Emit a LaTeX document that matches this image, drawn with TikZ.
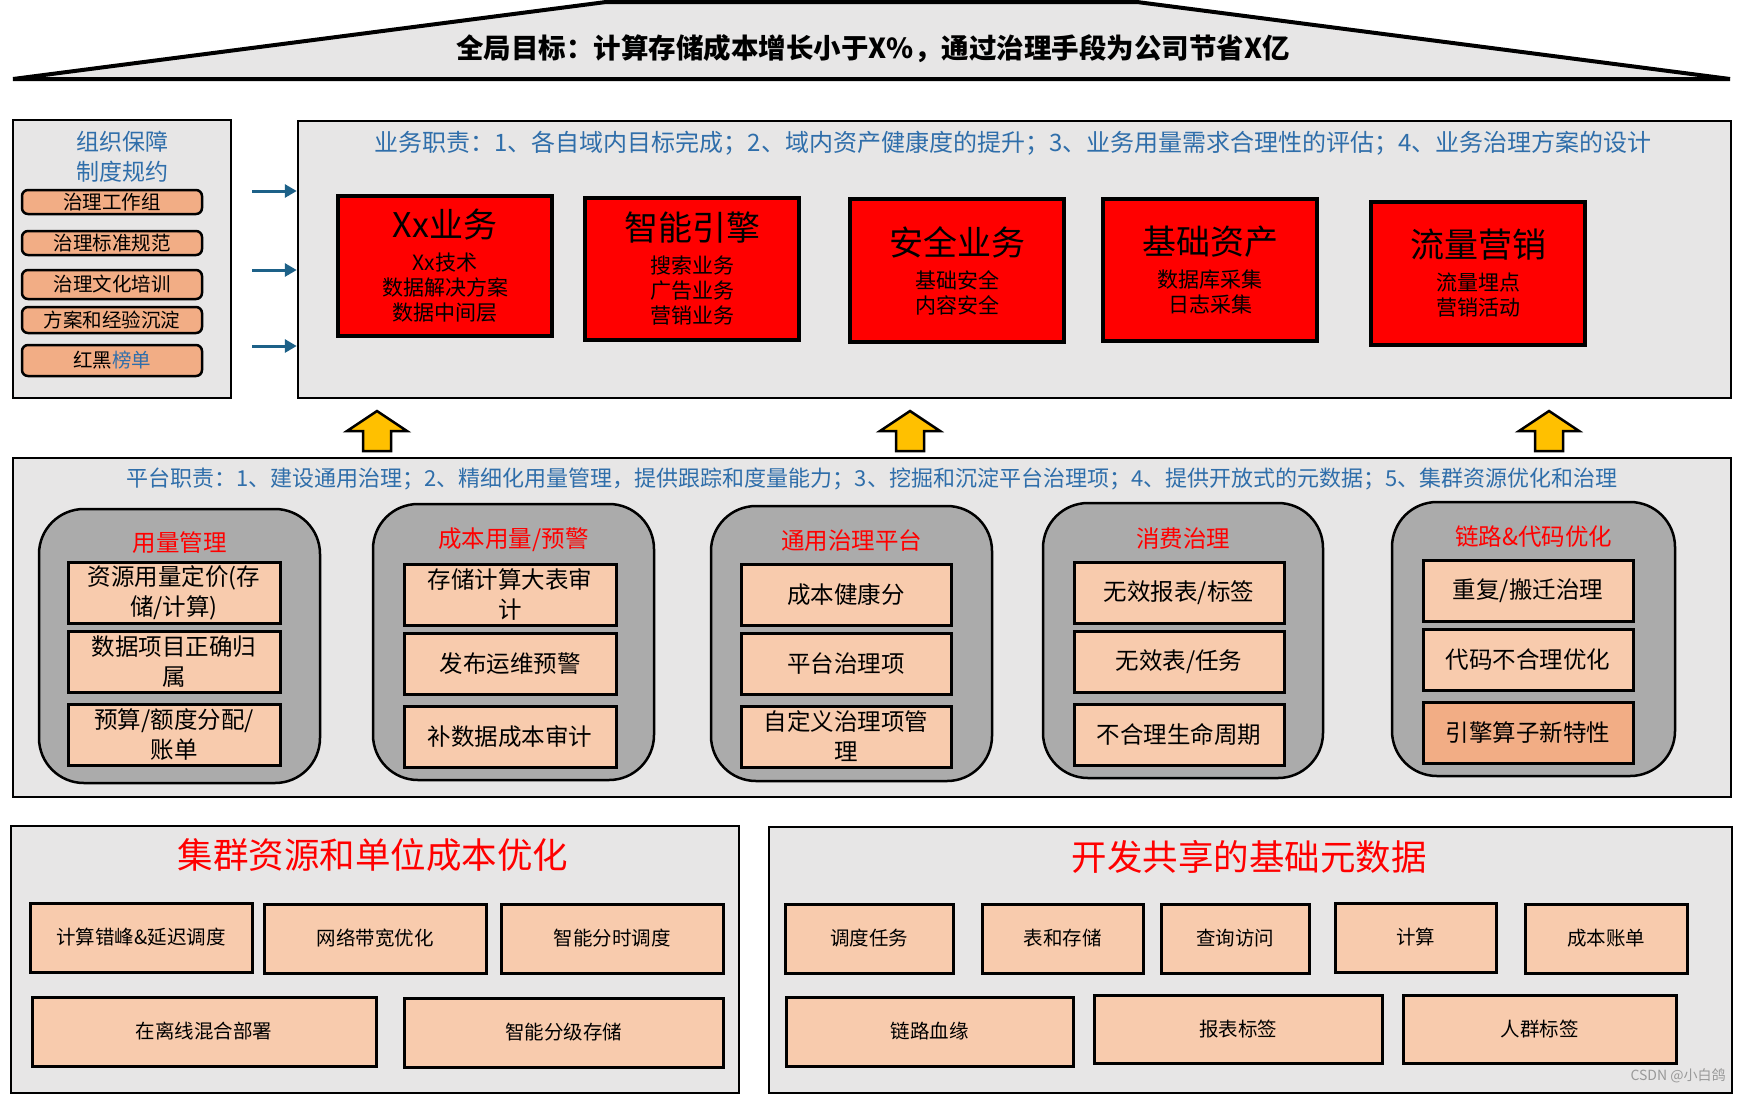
\documentclass[tikz,border=0pt]{standalone}
\usepackage{fontspec}
\setmainfont{Noto Sans CJK SC}
\usetikzlibrary{arrows.meta}
\definecolor{panelgray}{HTML}{E7E6E6}
\definecolor{groupgray}{HTML}{ABABAB}
\definecolor{peach}{HTML}{F8CBAD}
\definecolor{salmon}{HTML}{F2AD85}
\definecolor{dutyblue}{HTML}{2F6EAA}
\definecolor{arrowblue}{HTML}{1D6188}
\definecolor{gold}{HTML}{FFC000}
\newcommand\fs[2]{\fontsize{#1}{#2}\selectfont}
\tikzset{
  panel/.style={draw=black, line width=2.5pt, fill=panelgray, inner sep=0},
  redbox/.style={draw=black, line width=3.5pt, fill=red, align=center, inner sep=0, font=\fs{21}{25}},
  groupbox/.style={draw=black, line width=2.5pt, fill=groupgray, rounded corners=45pt, inner sep=0},
  itembox/.style={draw=black, line width=3pt, fill=peach, align=center, inner sep=0, font=\fs{23.5}{30}},
  smallbox/.style={draw=black, line width=3pt, fill=peach, inner sep=0, font=\fs{19.5}{24}},
  pill/.style={draw=black, line width=2.5pt, fill=salmon, rounded corners=6pt, inner sep=0, font=\fs{19.5}{22}},
  duty/.style={text=dutyblue, inner sep=0},
  grouptitle/.style={text=red, inner sep=0, font=\fs{23.5}{28}},
  bigtitle/.style={text=red, inner sep=0, font=\fs{35.5}{40}},
  flow/.style={arrowblue, line width=3pt, -{Triangle[length=12pt,width=13pt]}},
  uparrow/.style={draw=black, line width=2.5pt, fill=gold, line join=miter},
}
\begin{document}
\begin{tikzpicture}[x=1pt, y=-1pt]
\useasboundingbox[fill=white] (0,0) rectangle (1744,1096);
% overall goal
\draw[fill=panelgray, line width=4pt] (606,2) -- (1137,2) -- (1730,79) -- (13,79) -- cycle;
\node[inner sep=0, font=\fs{27.5}{30}\bfseries] (goal) at (873,49) {全局目标：计算存储成本增长小于X\%，通过治理手段为公司节省X亿};

% organisation
\node[panel, minimum width=218, minimum height=278] (org) at (122,259) {};
\node[duty, align=center, font=\fs{23}{30}] (orgtitle) at (122,157) {组织保障\\制度规约};
\node[pill, minimum width=180, minimum height=24] (p1) at (112,202) {治理工作组};
\node[pill, minimum width=180, minimum height=24] (p2) at (112,243) {治理标准规范};
\node[pill, minimum width=180, minimum height=29] (p3) at (112,284.5) {治理文化培训};
\node[pill, minimum width=180, minimum height=26] (p4) at (112,320) {方案和经验沉淀};
\node[pill, minimum width=180, minimum height=31] (p5) at (112,360.5) {红黑{\color{dutyblue}榜单}};

% business domains
\node[panel, minimum width=1433, minimum height=277] (biz) at (1014.5,259.5) {};
\node[duty, font=\fs{24}{28}] (bizduty) at (1013,143) {业务职责：1、各自域内目标完成；2、域内资产健康度的提升；3、业务用量需求合理性的评估；4、业务治理方案的设计};
\foreach \i/\ay in {1/191, 2/270, 3/346} {
  \coordinate (s\i) at (252,\ay);
  \draw[flow] (s\i) -- (s\i -| biz.west);
}
\node[redbox, minimum width=214, minimum height=140] (xx) at (445,266) {{\fs{34}{40}Xx业务}\\[8pt]Xx技术\\数据解决方案\\数据中间层};
\node[redbox, minimum width=214, minimum height=142] (engine) at (692,269) {{\fs{34}{40}智能引擎}\\[8pt]搜索业务\\广告业务\\营销业务};
\node[redbox, minimum width=214, minimum height=143] (safe) at (957,270.5) {{\fs{34}{40}安全业务}\\[8pt]基础安全\\内容安全};
\node[redbox, minimum width=214, minimum height=142] (asset) at (1210,270) {{\fs{34}{40}基础资产}\\[8pt]数据库采集\\日志采集};
\node[redbox, minimum width=214, minimum height=143] (traffic) at (1478,273.5) {{\fs{34}{40}流量营销}\\[8pt]流量埋点\\营销活动};

% support arrows
\foreach \ax in {377, 910, 1549}
  \draw[uparrow] (\ax,411) -- ++(30,20) -- ++(-16,0) -- ++(0,20) -- ++(-28,0) -- ++(0,-20) -- ++(-16,0) -- cycle;

% platform
\node[panel, minimum width=1718, minimum height=339] (plat) at (872,627.5) {};
\node[duty, font=\fs{22}{26}] (platduty) at (872,479) {平台职责：1、建设通用治理；2、精细化用量管理，提供跟踪和度量能力；3、挖掘和沉淀平台治理项；4、提供开放式的元数据；5、集群资源优化和治理};

\node[groupbox, minimum width=281, minimum height=274] (g1) at (179.5,646) {};
\node[grouptitle] (t1) at (179.5,543) {用量管理};
\node[itembox, minimum width=212, minimum height=61] (g1a) at (174,592.5) {资源用量定价(存\\储/计算)};
\node[itembox, minimum width=212, minimum height=61] (g1b) at (174,662) {数据项目正确归\\属};
\node[itembox, minimum width=212, minimum height=61] (g1c) at (174,734.5) {预算/额度分配/\\账单};

\node[groupbox, minimum width=281, minimum height=276] (g2) at (513.5,642) {};
\node[grouptitle] (t2) at (513.5,540) {成本用量/预警};
\node[itembox, minimum width=212, minimum height=61] (g2a) at (510,594.5) {存储计算大表审\\计};
\node[itembox, minimum width=212, minimum height=61] (g2b) at (510,663.5) {发布运维预警};
\node[itembox, minimum width=212, minimum height=61] (g2c) at (510,736.5) {补数据成本审计};

\node[groupbox, minimum width=281, minimum height=275] (g3) at (851.5,643.5) {};
\node[grouptitle] (t3) at (851.5,541) {通用治理平台};
\node[itembox, minimum width=210, minimum height=61] (g3a) at (846,594.5) {成本健康分};
\node[itembox, minimum width=210, minimum height=61] (g3b) at (846,664) {平台治理项};
\node[itembox, minimum width=210, minimum height=61] (g3c) at (846,736.5) {自定义治理项管\\理};

\node[groupbox, minimum width=280, minimum height=275] (g4) at (1183,640.5) {};
\node[grouptitle] (t4) at (1183,539) {消费治理};
\node[itembox, minimum width=210, minimum height=61] (g4a) at (1179,593) {无效报表/标签};
\node[itembox, minimum width=210, minimum height=61] (g4b) at (1179,662) {无效表/任务};
\node[itembox, minimum width=210, minimum height=61] (g4c) at (1179,734.5) {不合理生命周期};

\node[groupbox, minimum width=283, minimum height=274] (g5) at (1533.5,639) {};
\node[grouptitle] (t5) at (1533.5,537) {链路\&代码优化};
\node[itembox, minimum width=210, minimum height=61] (g5a) at (1528,591) {重复/搬迁治理};
\node[itembox, minimum width=210, minimum height=61] (g5b) at (1528,660) {代码不合理优化};
\node[itembox, minimum width=210, minimum height=61, fill=salmon] (g5c) at (1528,732.5) {引擎算子新特性};

% cluster resources
\node[panel, minimum width=728, minimum height=267] (cluster) at (375,959.5) {};
\node[bigtitle] (clustertitle) at (373,855) {集群资源和单位成本优化};
\node[smallbox, minimum width=222, minimum height=69] (c1) at (141,937.5) {计算错峰\&延迟调度};
\node[smallbox, minimum width=222, minimum height=69] (c2) at (375,938.5) {网络带宽优化};
\node[smallbox, minimum width=222, minimum height=69] (c3) at (612,938.5) {智能分时调度};
\node[smallbox, minimum width=344, minimum height=69] (c4) at (204,1031.5) {在离线混合部署};
\node[smallbox, minimum width=319, minimum height=69] (c5) at (563.5,1032.5) {智能分级存储};

% shared metadata
\node[panel, minimum width=963, minimum height=266] (meta) at (1250.5,960) {};
\node[bigtitle] (metatitle) at (1249,857) {开发共享的基础元数据};
\node[smallbox, minimum width=168, minimum height=69] (m1) at (869,938.5) {调度任务};
\node[smallbox, minimum width=161, minimum height=69] (m2) at (1062.5,938.5) {表和存储};
\node[smallbox, minimum width=148, minimum height=69] (m3) at (1235,938.5) {查询访问};
\node[smallbox, minimum width=161, minimum height=69] (m4) at (1415.5,937.5) {计算};
\node[smallbox, minimum width=162, minimum height=69] (m5) at (1606,938.5) {成本账单};
\node[smallbox, minimum width=287, minimum height=69] (m6) at (929.5,1031.5) {链路血缘};
\node[smallbox, minimum width=288, minimum height=68] (m7) at (1238,1029) {报表标签};
\node[smallbox, minimum width=273, minimum height=68] (m8) at (1539.5,1029) {人群标签};
\node[text=black!40, inner sep=0, font=\fs{14}{16}] (mark) at (1678,1076) {CSDN @小白鸽};
\end{tikzpicture}
\end{document}
